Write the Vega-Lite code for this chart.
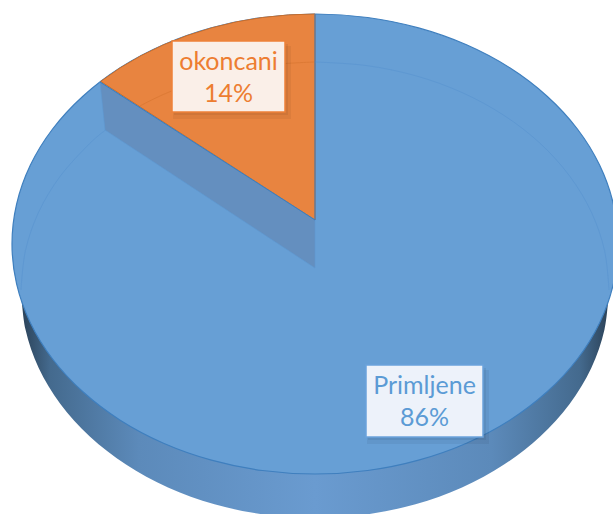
{
"$schema":"https://vega.github.io/schema/vega-lite/v6.json",
"width":613,"height":514,"padding":0,"autosize":{"type":"none"},"background":"white",
"config":{"view":{"stroke":null}},
"datasets":{
"face":[{"x":303,"y":0},{"x":298.4,"y":39.9},{"x":284.7,"y":78.7},{"x":262.4,"y":115},{"x":232.1,"y":147.8},{"x":194.8,"y":176.2},{"x":151.5,"y":199.2},{"x":103.6,"y":216.1},{"x":52.6,"y":226.5},{"x":0,"y":230},{"x":-52.6,"y":226.5},{"x":-103.6,"y":216.1},{"x":-151.5,"y":199.2},{"x":-194.8,"y":176.2},{"x":-232.1,"y":147.8},{"x":-262.4,"y":115},{"x":-284.7,"y":78.7},{"x":-298.4,"y":39.9},{"x":-303,"y":0},{"x":-298.4,"y":-39.9},{"x":-284.7,"y":-78.7},{"x":-262.4,"y":-115},{"x":-232.1,"y":-147.8},{"x":-194.8,"y":-176.2},{"x":-151.5,"y":-199.2},{"x":-103.6,"y":-216.1},{"x":-52.6,"y":-226.5},{"x":0,"y":-230},{"x":52.6,"y":-226.5},{"x":103.6,"y":-216.1},{"x":151.5,"y":-199.2},{"x":194.8,"y":-176.2},{"x":232.1,"y":-147.8},{"x":262.4,"y":-115},{"x":284.7,"y":-78.7},{"x":298.4,"y":-39.9}],
"side":[{"x":-294,"y":-46},{"x":-289.5,"y":-85.6},{"x":-276.3,"y":-124},{"x":-254.6,"y":-160},{"x":-225.2,"y":-192.6},{"x":-189,"y":-220.6},{"x":-147,"y":-243.5},{"x":-100.5,"y":-260.3},{"x":-51,"y":-270.5},{"x":0,"y":-274},{"x":51,"y":-270.5},{"x":100.5,"y":-260.3},{"x":147,"y":-243.5},{"x":189,"y":-220.6},{"x":225.2,"y":-192.6},{"x":254.6,"y":-160},{"x":276.3,"y":-124},{"x":289.5,"y":-85.6},{"x":294,"y":-46}],
"wall":[{"x":-215,"y":162},{"x":0,"y":24},{"x":0,"y":-24},{"x":-210,"y":114}],
"wedge":[{"x":0,"y":24},{"x":0,"y":230},{"x":-26.4,"y":229.1},{"x":-52.6,"y":226.5},{"x":-78.4,"y":222.2},{"x":-103.6,"y":216.1},{"x":-128,"y":208.4},{"x":-151.5,"y":199.2},{"x":-173.8,"y":188.4},{"x":-194.8,"y":176.2},{"x":-214.3,"y":162.6}],
"edge":[{"x":-215,"y":162},{"x":0,"y":24},{"x":0,"y":230}],
"rimRight":[{"x":294,"y":-46},{"x":289.5,"y":-6.4},{"x":276.3,"y":32},{"x":254.6,"y":68},{"x":225.2,"y":100.6},{"x":189,"y":128.6},{"x":147,"y":151.5},{"x":100.5,"y":168.3},{"x":51,"y":178.5},{"x":0,"y":182}],
"rimOrange":[{"x":0,"y":182},{"x":-51,"y":178.5},{"x":-100.5,"y":168.3},{"x":-147,"y":151.5},{"x":-175,"y":138}],
"rimLeft":[{"x":-208,"y":115},{"x":-225.2,"y":100.6},{"x":-254.6,"y":68},{"x":-276.3,"y":32},{"x":-289.5,"y":-6.4},{"x":-294,"y":-46}],
"labels":[{"category":"Primljene","share":86,"text":"Primljene\n86%","cx":109.5,"cy":-142,"x1":51,"x2":168,"y1":-121,"y2":-193,"sx1":53,"sx2":171,"sy1":-124,"sy2":-196,"ox1":52,"ox2":174,"oy1":-126,"oy2":-200},{"category":"okoncani","share":14,"text":"okoncani\n14%","cx":-86.5,"cy":182,"x1":-143,"x2":-30,"y1":203,"y2":132,"sx1":-141,"sx2":-27,"sy1":200,"sy2":129,"ox1":-142,"ox2":-24,"oy1":198,"oy2":125}]
},
"encoding":{
"x":{"field":"x","type":"quantitative","axis":null,"scale":{"domain":[-315,298],"nice":false,"zero":false}},
"y":{"field":"y","type":"quantitative","axis":null,"scale":{"domain":[-270,244],"nice":false,"zero":false}},
"order":{"value":null}
},
"layer":[
{"data":{"name":"side"},"mark":{"type":"line","clip":true,"interpolate":"cardinal","strokeWidth":0,"stroke":"transparent","fill":{"gradient":"linear","x1":0,"y1":0,"x2":1,"y2":0,"stops":[{"offset":0,"color":"#2b4258"},{"offset":0.05,"color":"#446a8e"},{"offset":0.2,"color":"#5c8aba"},{"offset":0.5,"color":"#6a9bd0"},{"offset":0.8,"color":"#5c8aba"},{"offset":0.95,"color":"#446a8e"},{"offset":1,"color":"#2b4258"}]}}},
{"data":{"name":"face"},"mark":{"type":"line","clip":true,"interpolate":"cardinal-closed","fill":"#679fd5","stroke":"#3f7fbe","strokeWidth":1.2}},
{"data":{"name":"wedge"},"mark":{"type":"line","clip":true,"interpolate":"linear-closed","fill":"#e88440","stroke":"#c96d2a","strokeWidth":1}},
{"data":{"name":"rimOrange"},"mark":{"type":"line","clip":true,"interpolate":"cardinal","stroke":"#dd7a35","strokeWidth":1}},
{"data":{"name":"rimRight"},"mark":{"type":"line","clip":true,"interpolate":"cardinal","stroke":"#5e98d2","strokeWidth":1}},
{"data":{"name":"rimLeft"},"mark":{"type":"line","clip":true,"interpolate":"cardinal","stroke":"#5e98d2","strokeWidth":1}},
{"data":{"name":"wall"},"mark":{"type":"line","clip":true,"interpolate":"linear-closed","fill":"#648fbf","stroke":"#5e98d2","strokeWidth":0.6}},
{"data":{"name":"edge"},"mark":{"type":"line","clip":true,"interpolate":"linear","stroke":"#3c7dbc","strokeWidth":1}},
{"data":{"name":"labels"},"mark":{"type":"rect","fill":"#000000","opacity":0.05},"encoding":{"x":{"field":"ox1","type":"quantitative"},"x2":{"field":"ox2"},"y":{"field":"oy1","type":"quantitative"},"y2":{"field":"oy2"},"order":null}},
{"data":{"name":"labels"},"mark":{"type":"rect","fill":"#000000","opacity":0.06},"encoding":{"x":{"field":"sx1","type":"quantitative"},"x2":{"field":"sx2"},"y":{"field":"sy1","type":"quantitative"},"y2":{"field":"sy2"},"order":null}},
{"data":{"name":"labels"},"mark":{"type":"rect","strokeWidth":1.5},"encoding":{"x":{"field":"x1","type":"quantitative"},"x2":{"field":"x2"},"y":{"field":"y1","type":"quantitative"},"y2":{"field":"y2"},"order":null,
"fill":{"field":"category","type":"nominal","legend":null,"scale":{"domain":["Primljene","okoncani"],"range":["#edf2fa","#faefe8"]}},
"stroke":{"field":"category","type":"nominal","legend":null,"scale":{"domain":["Primljene","okoncani"],"range":["#6ba3dc","#ee8138"]}}}},
{"data":{"name":"labels"},"mark":{"type":"text","font":"Lato","fontSize":25,"lineBreak":"\n","lineHeight":32,"align":"center","baseline":"middle"},"encoding":{"x":{"field":"cx","type":"quantitative"},"y":{"field":"cy","type":"quantitative"},"order":null,"text":{"field":"text"},
"color":{"field":"category","type":"nominal","legend":null,"scale":{"domain":["Primljene","okoncani"],"range":["#5b9bd5","#ed7d31"]}}}}
],
"resolve":{"scale":{"color":"independent"}}
}
